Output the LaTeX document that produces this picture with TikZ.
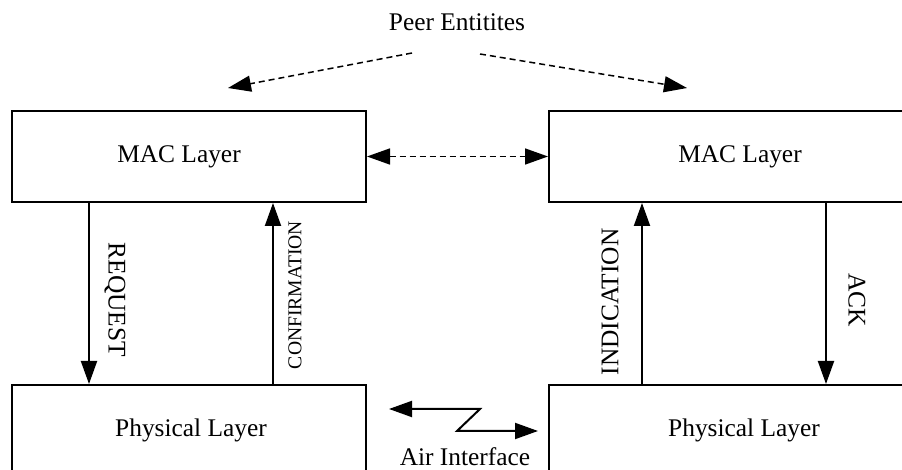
\documentclass[tikz,border=0pt]{standalone}
\usepackage{fontspec}
\setmainfont{Liberation Serif}
\usetikzlibrary{positioning,arrows.meta}

\begin{document}
\begin{tikzpicture}[
  x=0.5pt,y=-0.5pt,
  line join=miter,
  >={Triangle[length=11.5pt,width=8pt]},
  every node/.style={font=\fontsize{12.7}{15}\selectfont},
  small/.style={font=\fontsize{9.8}{12}\selectfont},
  layer/.style={draw,line width=1pt,inner sep=0pt,minimum height=45.5pt},
  flow/.style={->,line width=1pt},
  peerflow/.style={->,line width=0.75pt,dash pattern=on 3pt off 2pt}
]
  \useasboundingbox (0,0) rectangle (902,470);

  % protocol stacks, the right pair runs past the edge
  \node[layer,minimum width=177pt,label={[xshift=-5pt]center:MAC Layer}] (macL) at (189,156.5) {};
  \node[layer,minimum width=191pt] (macR) at (740,156.5) {MAC Layer};
  \node[layer,minimum width=177pt,minimum height=47.5pt] (phyL) at (189,432.5) {};
  \node (phyLtxt) at (191,430) {Physical Layer};
  \node[layer,minimum width=195pt,minimum height=47.5pt] (phyR) at (744,432.5) {};
  \node (phyRtxt) at (744,430) {Physical Layer};

  % peer entities
  \node (peer) at (457,22) {Peer Entitites};
  \coordinate (peerL) at (412,53);
  \coordinate (peerLend) at (228,88);
  \coordinate (peerR) at (480,54);
  \coordinate (peerRend) at (687,88);
  \draw[peerflow] (peerL) -- (peerLend);
  \draw[peerflow] (peerR) -- (peerRend);
  \draw[peerflow,<->] (macL.east) -- (macR.west);

  % service primitives
  \draw[flow] (macL.south -| 89,0) -- (phyL.north -| 89,0);
  \draw[flow] (phyL.north -| 273,0) -- (macL.south -| 273,0);
  \draw[flow] (phyR.north -| 642,0) -- (macR.south -| 642,0);
  \draw[flow] (macR.south -| 826,0) -- (phyR.north -| 826,0);
  \node[rotate=-90] (req) at (115,300) {REQUEST};
  \node[small,rotate=90] (conf) at (295,295) {CONFIRMATION};
  \node[rotate=90] (ind) at (610,302) {INDICATION};
  \node[rotate=-90] (ack) at (857,300) {ACK};

  % air interface
  \coordinate (zigL) at (389,409);
  \coordinate (zigA) at (480,409);
  \coordinate (zigB) at (457,431);
  \coordinate (zigR) at (538,431);
  \draw[flow,<->] (zigL) -- (zigA) -- (zigB) -- (zigR);
  \node (air) at (465,457) {Air Interface};
\end{tikzpicture}
\end{document}
